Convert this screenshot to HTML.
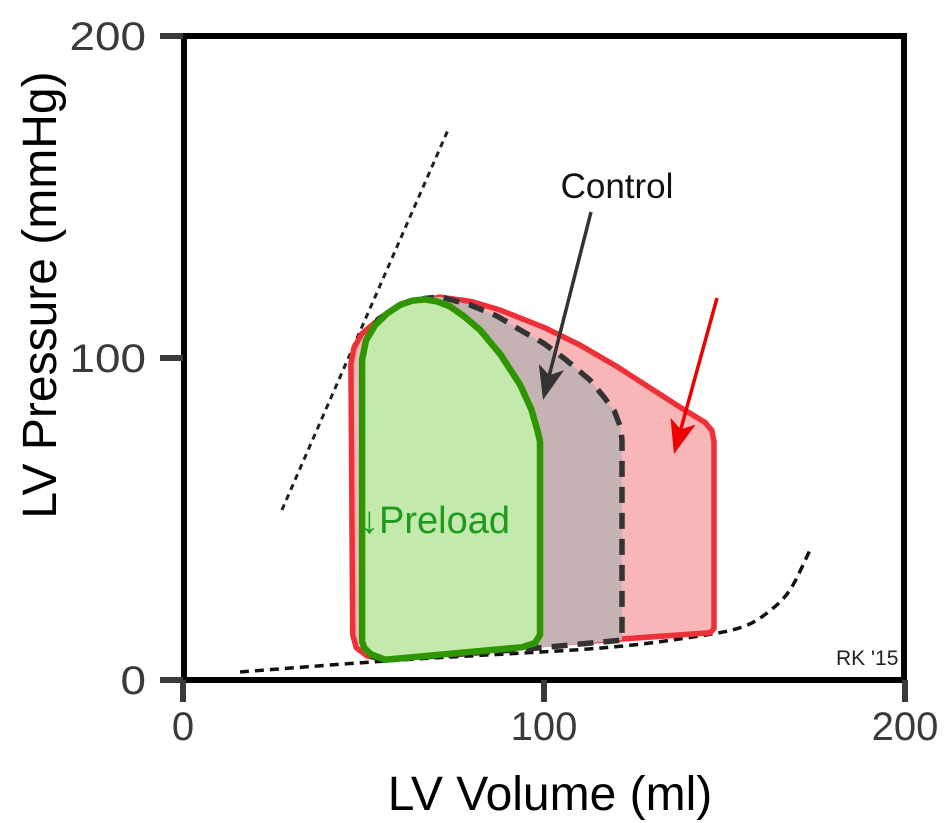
<!DOCTYPE html>
<html><head><meta charset="utf-8"><style>
html,body{margin:0;padding:0;background:#fff;}
svg{display:block;font-family:"Liberation Sans",sans-serif;}
</style></head><body>
<svg id="chart" width="947" height="823" viewBox="0 0 947 823"></svg>
<script>
const xTicks=[0,100,200];
const yTicks=[0,100,200];
const redLoop=[[47,14],[46.5,98],[47.3,103],[49.5,107.5],[53,110.8],[60.1,115.8],[66,117.8],[71.2,118.9],[80,117.5],[87.8,114.9],[100,109.5],[110,104],[120,97.5],[129.4,90.7],[138,84.5],[144.6,80],[146.5,77.5],[147.1,74],[147.1,16],[146,14.7],[120,12.6],[87.8,10.2],[56,6.5],[51,7.5],[48,10]];
const controlLoop=[[49.8,14],[49.8,99],[51,106],[54,112],[60.1,116.5],[67,118.5],[71.2,119],[79.5,116.5],[87,113],[93.4,108.7],[100,104.5],[106,99.5],[112.7,93.2],[116.5,88],[119.5,83.5],[121.2,78.5],[121.6,74.5],[121.6,12.4],[95,9.6],[56,6.2],[51.5,7.5]];
const greenLoop=[[49.6,12],[49.6,99.4],[50.7,105.5],[53.2,110.2],[56.5,113.8],[60.1,116.5],[63.5,117.8],[67,118.2],[70.5,117.5],[74,116],[78,112.8],[82.3,108.7],[88,101],[93.4,91.6],[96.5,84],[98.3,77],[98.9,74],[98.9,14],[97.5,11.5],[94,10.2],[56,6.3],[52,8],[50.2,10]];
const espvr=[[27.4,52.8],[73.4,170.8]];
const edpvr=[[15.8,2.5],[60.1,6.2],[115.5,9.9],[143.2,13.7],[155,16.5],[162,21],[168.1,27.9],[173.7,40.4]];
const X0=183,X1=905,Y0=680,Y1=36;
const sx=v=>X0+(v-0)/200*(X1-X0);
const sy=p=>Y0-(p-0)/200*(Y0-Y1);
const NS="http://www.w3.org/2000/svg";
const svg=document.getElementById('chart');
function mk(tag,attrs,parent){const e=document.createElementNS(NS,tag);for(const k in attrs)e.setAttribute(k,attrs[k]);(parent||svg).appendChild(e);return e;}
function lin(pts,closed){return 'M'+pts.map(d=>sx(d[0]).toFixed(1)+','+sy(d[1]).toFixed(1)).join(' L')+(closed?'Z':'');}
function smooth(pts){
  const P=pts.map(d=>[sx(d[0]),sy(d[1])]);const n=P.length;
  let d=`M${P[0][0]},${P[0][1]}`;
  for(let i=0;i<n-1;i++){
    const p0=P[Math.max(i-1,0)],p1=P[i],p2=P[i+1],p3=P[Math.min(i+2,n-1)];const t=0.16;
    d+=` C${p1[0]+(p2[0]-p0[0])*t},${p1[1]+(p2[1]-p0[1])*t} ${p2[0]-(p3[0]-p1[0])*t},${p2[1]-(p3[1]-p1[1])*t} ${p2[0]},${p2[1]}`;
  }
  return d;
}
let e;
e=mk('path',{d:lin(espvr,false),fill:'none',stroke:'#222','stroke-width':3,'stroke-dasharray':'6,5'});

e=mk('path',{d:smooth(edpvr),fill:'none',stroke:'#111','stroke-width':3.5,'stroke-dasharray':'9,6'});

e=mk('path',{d:lin(redLoop,true),fill:'#f8b6b8',stroke:'#ee3038','stroke-width':5.5,'stroke-linejoin':'round'});

e=mk('path',{d:lin(controlLoop,true),fill:'#c5b3b3',stroke:'#333','stroke-width':5.5,'stroke-dasharray':'16,10','stroke-linejoin':'round'});

e=mk('path',{d:lin(greenLoop,true),fill:'#c3eaac',stroke:'#2d9600','stroke-width':6.5,'stroke-linejoin':'round'});

function arrow(x1,y1,x2,y2,col,name){
  const g=mk('g',{});
  
  const a=Math.atan2(y2-y1,x2-x1),L=34,W=13;
  const bx=x2-L*Math.cos(a)*0.75,by=y2-L*Math.sin(a)*0.75;
  mk('line',{x1,y1,x2:bx,y2:by,stroke:col,'stroke-width':3.5},g);
  const p=[[x2,y2],[x2-L*Math.cos(a)+W*Math.sin(a),y2-L*Math.sin(a)-W*Math.cos(a)],[bx,by],[x2-L*Math.cos(a)-W*Math.sin(a),y2-L*Math.sin(a)+W*Math.cos(a)]];
  mk('polygon',{points:p.map(q=>q.join(',')).join(' '),fill:col},g);
}
arrow(591,212,543,400,'#333','control-arrow');
arrow(717,298,674,454,'#ee0000','red-arrow');
e=mk('text',{x:617,y:198,'font-size':35,'text-anchor':'middle',fill:'#111'});e.textContent='Control';

e=mk('text',{x:360,y:533,'font-size':38,fill:'#1e9a1e'});e.textContent='↓Preload';

e=mk('text',{x:836,y:665,'font-size':21,fill:'#222'});e.textContent="RK '15";

e=mk('rect',{x:X0+1,y:Y1,width:X1-X0-2,height:Y0-Y1,fill:'none',stroke:'#000','stroke-width':6});

xTicks.forEach(v=>{
  e=mk('line',{x1:sx(v),x2:sx(v),y1:Y0,y2:Y0+22,stroke:'#3a3a3a','stroke-width':6});
  
  e=mk('text',{x:sx(v),y:740,'font-size':40,'text-anchor':'middle',fill:'#3a3a3a'});e.textContent=v;
  
});
yTicks.forEach(v=>{
  e=mk('line',{x1:X0-23,x2:X0,y1:sy(v),y2:sy(v),stroke:'#3a3a3a','stroke-width':6});
  
  e=mk('text',{x:146,y:sy(v)+14,'font-size':40,'text-anchor':'end',fill:'#3a3a3a','textLength':String(v).length*25.5,'lengthAdjust':'spacingAndGlyphs'});e.textContent=v;
  
});
e=mk('text',{x:550,y:810,'font-size':48,'text-anchor':'middle',fill:'#000'});e.textContent='LV Volume (ml)';

e=mk('text',{x:0,y:0,'font-size':48,'text-anchor':'middle',fill:'#000',transform:'translate(56,295) rotate(-90)'});e.textContent='LV Pressure (mmHg)';

</script>
</body></html>
